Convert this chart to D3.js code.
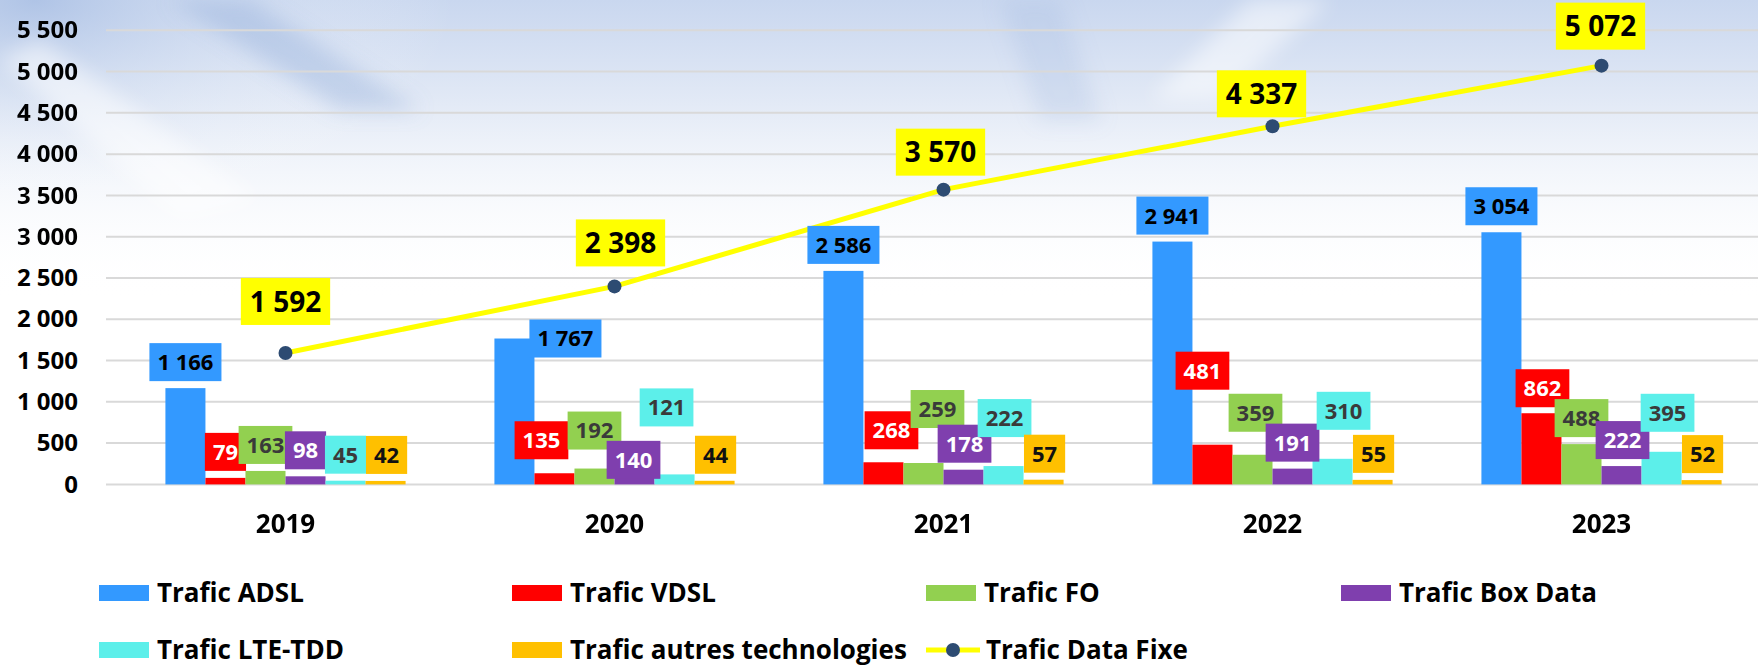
<!DOCTYPE html>
<html>
<head>
<meta charset="utf-8">
<script src="https://cdn.jsdelivr.net/npm/d3@7"></script>
<style>
  body { margin: 0; background: #fff; }
  svg { display: block; font-family: "Open Sans", "Noto Sans", sans-serif; font-weight: 700; }
</style>
</head>
<body>
<div id="chart"></div>
<script>
// data
const years = ["2019", "2020", "2021", "2022", "2023"];
const seriesNames = ["Trafic ADSL", "Trafic VDSL", "Trafic FO", "Trafic Box Data", "Trafic LTE-TDD", "Trafic autres technologies"];
const adsl = [1166, 1767, 2586, 2941, 3054];
const vdsl = [79, 135, 268, 481, 862];
const fo = [163, 192, 259, 359, 488];
const boxData = [98, 140, 178, 191, 222];
const lteTdd = [45, 121, 222, 310, 395];
const autres = [42, 44, 57, 55, 52];
const lineName = "Trafic Data Fixe";
const dataFixe = [1592, 2398, 3570, 4337, 5072];
const yTicks = [0, 500, 1000, 1500, 2000, 2500, 3000, 3500, 4000, 4500, 5000, 5500];

const seriesValues = [adsl, vdsl, fo, boxData, lteTdd, autres];
const colors = ["#3399ff", "#ff0000", "#92d050", "#7f3fae", "#5cefea", "#ffc000"];
const labelText = ["#000", "#fff", "#3a3a3a", "#fff", "#3a3a3a", "#111"];

// hand placed labels in the original (dx, dy from the default spot)
const labelNudge = [
  [[0, 0], [51, 26], [0, 0], [0, 0], [0, 0]],
  [[0, 0], [-13, -7], [8, -6], [-10, -48], [1, 1]],
  [[0, 0], [0, -12], [14, -28], [3, -16], [0, 0]],
  [[0, 0], [-1, 13], [1, 0], [0, 0], [1, 0]],
  [[0, 0], [-8, -41], [1, -22], [11, -22], [6, -13]],
  [[1, 0], [1, 0], [1, 0], [1, 0], [1, 0]]
];
const lineNudge = [[0, -12], [6, -4], [-3, 2], [-11, 7], [-1, 0]];

const width = 1758, height = 666;

const svg = d3.select("#chart").append("svg")
    .attr("width", width)
    .attr("height", height);

// slide background: pale blue wash at the top
const defs = svg.append("defs");
const g1 = defs.append("linearGradient").attr("id", "wash")
    .attr("x1", 0).attr("y1", 0).attr("x2", 0).attr("y2", 1);
g1.append("stop").attr("offset", "0%").attr("stop-color", "#c9d7ef");
g1.append("stop").attr("offset", "35%").attr("stop-color", "#e3eaf6");
g1.append("stop").attr("offset", "100%").attr("stop-color", "#ffffff").attr("stop-opacity", 0);
const g2 = defs.append("radialGradient").attr("id", "corner")
    .attr("cx", 0.05).attr("cy", 0).attr("r", 0.6);
g2.append("stop").attr("offset", "0%").attr("stop-color", "#a9bfe4").attr("stop-opacity", 0.8);
g2.append("stop").attr("offset", "100%").attr("stop-color", "#ffffff").attr("stop-opacity", 0);
defs.append("filter").attr("id", "soft").append("feGaussianBlur").attr("stdDeviation", 10);

svg.append("rect").attr("width", width).attr("height", height).attr("fill", "#fff");
svg.append("rect").attr("width", width).attr("height", 300).attr("fill", "url(#wash)");
svg.append("rect").attr("width", 700).attr("height", 360).attr("fill", "url(#corner)");

const streaks = svg.append("g").attr("filter", "url(#soft)");
streaks.append("path").attr("d", "M170,0 L250,0 L420,110 L340,110 Z").attr("fill", "#8aa6d8").attr("opacity", 0.35);
streaks.append("path").attr("d", "M0,60 L40,40 L260,200 L180,220 Z").attr("fill", "#ffffff").attr("opacity", 0.5);
streaks.append("path").attr("d", "M1000,0 L1060,0 L1100,120 L1040,120 Z").attr("fill", "#9fb6de").attr("opacity", 0.25);
streaks.append("path").attr("d", "M1250,0 L1330,0 L1220,100 L1150,100 Z").attr("fill", "#ffffff").attr("opacity", 0.5);

// scales
const y = d3.scaleLinear().domain([0, 5500]).range([484.4, 30.3]);
const x0 = d3.scaleBand().domain(years).range([121, 1766])
    .paddingInner(0.27).paddingOuter(0.135);
const x1 = d3.scaleBand().domain(seriesNames).range([0, x0.bandwidth()]);

// grid
svg.append("g")
    .selectAll("line")
    .data(yTicks)
    .join("line")
    .attr("x1", 106).attr("x2", width)
    .attr("y1", d => y(d)).attr("y2", d => y(d))
    .attr("stroke", "#d9d9d9")
    .attr("stroke-width", 2);

// y axis labels
const fmt = d => d3.format(",")(d).replace(/,/g, " ");
svg.append("g")
    .attr("transform", "translate(78,0)")
    .call(d3.axisLeft(y).tickValues(yTicks).tickSize(0).tickPadding(0).tickFormat(fmt))
    .call(g => g.select(".domain").remove())
    .selectAll("text")
    .attr("font-size", 24)
    .attr("font-family", "\"Open Sans\", sans-serif")
    .attr("font-weight", 700)
    .attr("fill", "#000");

// x axis labels
svg.append("g")
    .attr("transform", `translate(0,${y(0)})`)
    .call(d3.axisBottom(x0).tickSize(0).tickPadding(30))
    .call(g => g.select(".domain").remove())
    .selectAll("text")
    .attr("font-size", 26)
    .attr("font-family", "\"Open Sans\", sans-serif")
    .attr("font-weight", 700)
    .attr("fill", "#000");

// bars
const rows = [];
seriesValues.forEach((vals, s) => {
  vals.forEach((v, i) => rows.push({ s, i, year: years[i], name: seriesNames[s], value: v }));
});

svg.append("g")
    .selectAll("rect")
    .data(rows)
    .join("rect")
    .attr("x", d => x0(d.year) + x1(d.name))
    .attr("width", x1.bandwidth())
    .attr("y", d => y(d.value))
    .attr("height", d => y(0) - y(d.value))
    .attr("fill", d => colors[d.s]);

// line + dots
const cx = d => x0(d) + x0.bandwidth() / 2;
const pts = years.map((yr, i) => ({ year: yr, value: dataFixe[i], i }));

svg.append("path")
    .datum(pts)
    .attr("fill", "none")
    .attr("stroke", "#ffff00")
    .attr("stroke-width", 5)
    .attr("d", d3.line().x(d => cx(d.year)).y(d => y(d.value)));

svg.append("g")
    .selectAll("circle")
    .data(pts)
    .join("circle")
    .attr("cx", d => cx(d.year))
    .attr("cy", d => y(d.value))
    .attr("r", 7)
    .attr("fill", "#2d4b72");

// bar labels (boxes filled with the series colour)
const boxH = 38, pad = 8;
const lab = svg.append("g")
    .selectAll("g")
    .data(rows)
    .join("g")
    .attr("transform", d => {
      const n = labelNudge[d.s][d.i];
      const bx = x0(d.year) + x1(d.name) + x1.bandwidth() / 2 + n[0];
      const by = y(d.value) - 7 - boxH / 2 + n[1];
      return `translate(${bx},${by})`;
    });

lab.append("rect").attr("fill", d => colors[d.s]);
lab.append("text")
    .text(d => fmt(d.value))
    .attr("text-anchor", "middle")
    .attr("dy", "0.36em")
    .attr("font-size", 22)
    .attr("fill", d => labelText[d.s]);
lab.each(function() {
  const g = d3.select(this);
  const w = g.select("text").node().getComputedTextLength() + pad * 2;
  g.select("rect").attr("x", -w / 2).attr("y", -boxH / 2).attr("width", w).attr("height", boxH);
});

// line labels (yellow)
const lineH = 47, linePad = 9;
const ll = svg.append("g")
    .selectAll("g")
    .data(pts)
    .join("g")
    .attr("transform", d => {
      const n = lineNudge[d.i];
      return `translate(${cx(d.year) + n[0]},${y(d.value) - 16 - lineH / 2 + n[1]})`;
    });
ll.append("rect").attr("fill", "#ffff00");
ll.append("text")
    .text(d => fmt(d.value))
    .attr("text-anchor", "middle")
    .attr("dy", "0.36em")
    .attr("font-size", 28)
    .attr("fill", "#000");
ll.each(function() {
  const g = d3.select(this);
  const w = g.select("text").node().getComputedTextLength() + linePad * 2;
  g.select("rect").attr("x", -w / 2).attr("y", -lineH / 2).attr("width", w).attr("height", lineH);
});

// legend
const legendCols = [99, 512, 926, 1341], legendRows = [593, 650];
const items = seriesNames.map((n, s) => ({ name: n, s })).concat([{ name: lineName, s: -1 }]);
const leg = svg.append("g")
    .selectAll("g")
    .data(items)
    .join("g")
    .attr("transform", (d, k) => `translate(${legendCols[k % 4]},${legendRows[Math.floor(k / 4)]})`);

leg.filter(d => d.s >= 0).append("rect")
    .attr("x", 0).attr("y", -8).attr("width", 50).attr("height", 16)
    .attr("fill", d => colors[d.s]);
const lineItem = leg.filter(d => d.s < 0);
lineItem.append("line")
    .attr("x1", 0).attr("x2", 54).attr("y1", 0).attr("y2", 0)
    .attr("stroke", "#ffff00").attr("stroke-width", 5);
lineItem.append("circle")
    .attr("cx", 27).attr("cy", 0).attr("r", 7).attr("fill", "#2d4b72");

leg.append("text")
    .attr("x", d => d.s < 0 ? 60 : 58)
    .attr("dy", "0.36em")
    .attr("font-size", 26)
    .attr("fill", "#000")
    .text(d => d.name);
</script>
</body>
</html>
